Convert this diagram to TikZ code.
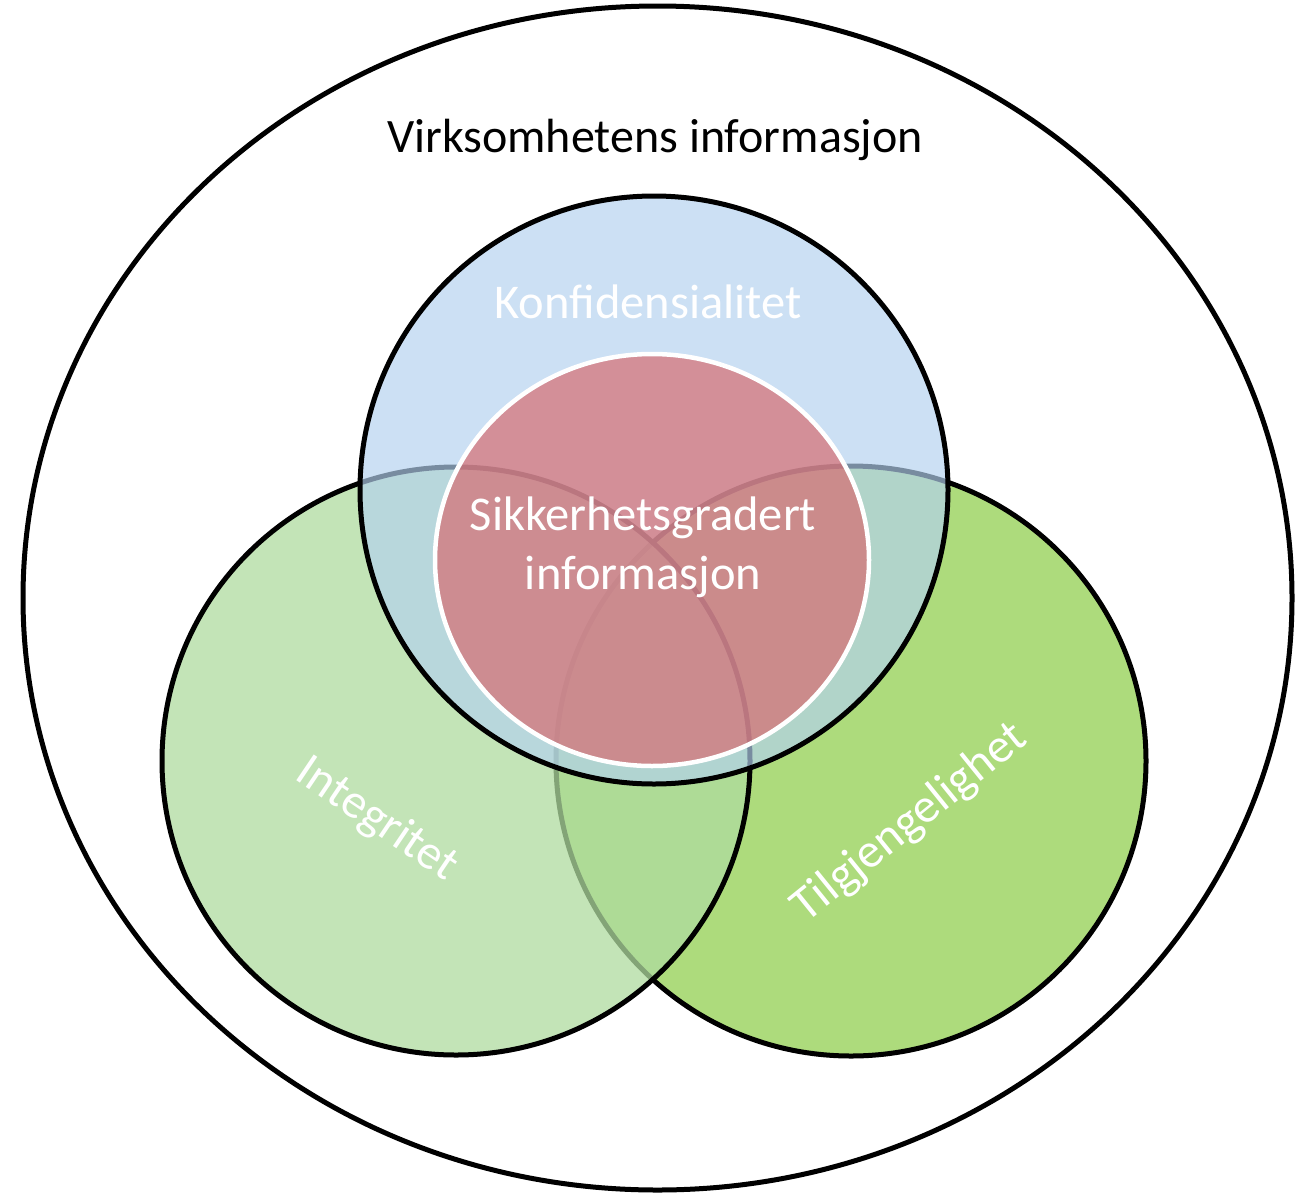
\documentclass[tikz,border=0pt]{standalone}
\usepackage{fontspec}
\setmainfont{Carlito}
\definecolor{bluefill}{RGB}{179,209,239}
\definecolor{greenL}{RGB}{175,219,159}
\definecolor{greenR}{RGB}{173,219,124}
\definecolor{redfill}{RGB}{215,109,114}
\begin{document}
\begin{tikzpicture}[x=1pt,y=-1pt,
  ring/.style={draw=black,line width=5pt},
  lbl/.style={font=\fontsize{48.5}{59}\selectfont,text=white,align=center},
  title/.style={font=\fontsize{48}{58}\selectfont,text=black}]
\useasboundingbox (0,0) rectangle (1301,1194);
% outer
\draw[ring,fill=white] (657.5,598) ellipse [x radius=634.5,y radius=592];
% right green
\draw[ring,fill=greenR] (851,761) circle [radius=295];
% left green
\draw[ring,fill=greenL,fill opacity=0.75] (456,761) circle [radius=294];
% blue
\draw[ring,fill=bluefill,fill opacity=0.67] (654,490) circle [radius=294];
% red
\draw[draw=white,line width=4.5pt,fill=redfill,fill opacity=0.7] (652,560) ellipse [x radius=217,y radius=206];
% texts
\node[title] (virk) at (655,140) {Virksomhetens informasjon};
\node[lbl] (konf) at (648,302) {Konfidensialitet};
\node[lbl] (sikk) at (643,547) {Sikkerhetsgradert\\informasjon};
\node[lbl,rotate=-34] (integ) at (377,820) {Integritet};
\node[lbl,rotate=39] (tilg) at (910,823) {Tilgjengelighet};
\end{tikzpicture}
\end{document}
